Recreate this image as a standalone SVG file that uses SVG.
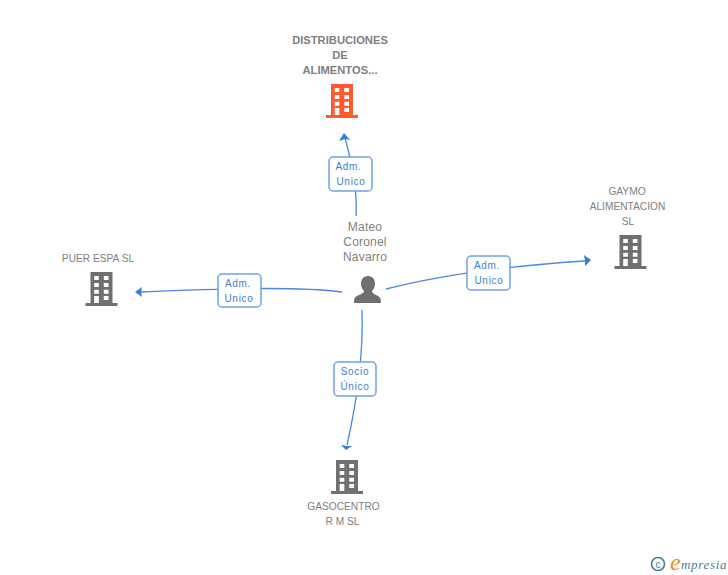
<svg xmlns="http://www.w3.org/2000/svg" width="728" height="575" viewBox="0 0 728 575">
<style>
text{font-family:"Liberation Sans",Arial,sans-serif}
.n{font-size:10.2px;fill:#808080;text-anchor:middle}
.b{font-size:11.200px;font-weight:700;fill:#7f7f7f;text-anchor:middle}
.p{font-size:12px;fill:#808080;text-anchor:middle;letter-spacing:.2px}
.l{font-size:10px;fill:#3b7ddd;text-anchor:middle;letter-spacing:.7px}
.e{fill:none;stroke:#4a88e4;stroke-width:1.300}
.a{fill:#3b7ddd}
.box{fill:#fff;stroke:#6fa3ea;stroke-width:1.500}
</style>
<defs>
<symbol id="bld" overflow="visible" viewBox="0 0 32 34" width="32" height="34">
<path fill-rule="evenodd" d="M5 0H27V31H32V34H0V31H5ZM8.700 4V8H13.300V4ZM18.300 4V8H23V4ZM8.700 11V15H13.300V11ZM18.300 11V15H23V11ZM8.700 17.700V21.700H13.300V17.700ZM18.300 17.700V21.700H23V17.700ZM8.700 24V31H13.300V24ZM18.300 24V28H23V24Z"/>
</symbol>
</defs>
<g id="connectors">
<path class="e" d="M356 216Q358 185 345 138"/><path class="a" d="M344 133L350 140L345 139L339 141Z"/>
<path class="e" d="M342 292Q290 285 140 292"/><path class="a" d="M135 292L142 287L141 292L142 297Z"/>
<path class="e" d="M386 289Q470 268 585 261"/><path class="a" d="M591 260L584 255L585 261L585 266Z"/>
<path class="e" d="M362 310Q364 370 347 445"/><path class="a" d="M346 450L341 445L347 446L352 446Z"/>
</g>
<g id="edge-label-1"><rect class="box" x="329" y="157" width="43" height="34" rx="4"/><text class="l" x="348.500" y="170">Adm.</text><text class="l" x="351" y="185">Unico</text></g>
<g id="edge-label-2"><rect class="box" x="218" y="274" width="43" height="33" rx="4"/><text class="l" x="238" y="287">Adm.</text><text class="l" x="239" y="302">Unico</text></g>
<g id="edge-label-3"><rect class="box" x="467" y="256" width="43" height="34" rx="4"/><text class="l" x="487" y="269">Adm.</text><text class="l" x="489" y="284">Unico</text></g>
<g id="edge-label-4"><rect class="box" x="334" y="362" width="42" height="34" rx="4"/><text class="l" x="355" y="375">Socio</text><text class="l" x="355" y="390">Único</text></g>
<g id="node-distribuciones"><text class="b" x="340" y="44">DISTRIBUCIONES</text><text class="b" x="340" y="58.500">DE</text><text class="b" x="340" y="73.500">ALIMENTOS...</text><use href="#bld" x="326" y="84" fill="#ff5a2c"/></g>
<g id="node-person"><text class="p" x="365" y="231">Mateo</text><text class="p" x="365" y="246">Coronel</text><text class="p" x="365" y="261">Navarro</text>
<path fill="#6f6f6f" d="M368 276C372.500 276 375 279.500 375 283.500C375 287 373.500 289.500 372 291C372 293 374 294 377 295.500C380 297 381 298 381 303H354C354 298 355 297 358 295.500C361 294 364 293 364 291C362.500 289.500 361 287 361 283.500C361 279.500 363.500 276 368 276Z"/></g>
<g id="node-puer"><text class="n" x="98" y="262">PUER ESPA SL</text><use href="#bld" x="85.500" y="272" fill="#707070"/></g>
<g id="node-gaymo"><text class="n" x="627" y="195">GAYMO</text><text class="n" x="627.500" y="210">ALIMENTACION</text><text class="n" x="628" y="225">SL</text><use href="#bld" x="614.500" y="235" fill="#707070"/></g>
<g id="node-gasocentro"><use href="#bld" x="331" y="460" fill="#707070"/><text class="n" x="343.500" y="510">GASOCENTRO</text><text class="n" x="342.500" y="525">R M SL</text></g>
<g id="watermark"><circle cx="658" cy="564" r="6.500" fill="none" stroke="#3f7f9a" stroke-width="1.600"/><text x="658" y="567.500" font-size="10" fill="#3f7f9a" text-anchor="middle">c</text><text x="670" y="570" font-size="24" font-style="italic" fill="#f08a1d" style="font-family:'Liberation Serif',serif">e</text><text x="681" y="569" font-size="13" font-style="italic" fill="#3f7f9a" style="font-family:'Liberation Serif',serif" letter-spacing=".7">mpresia</text></g>
</svg>
